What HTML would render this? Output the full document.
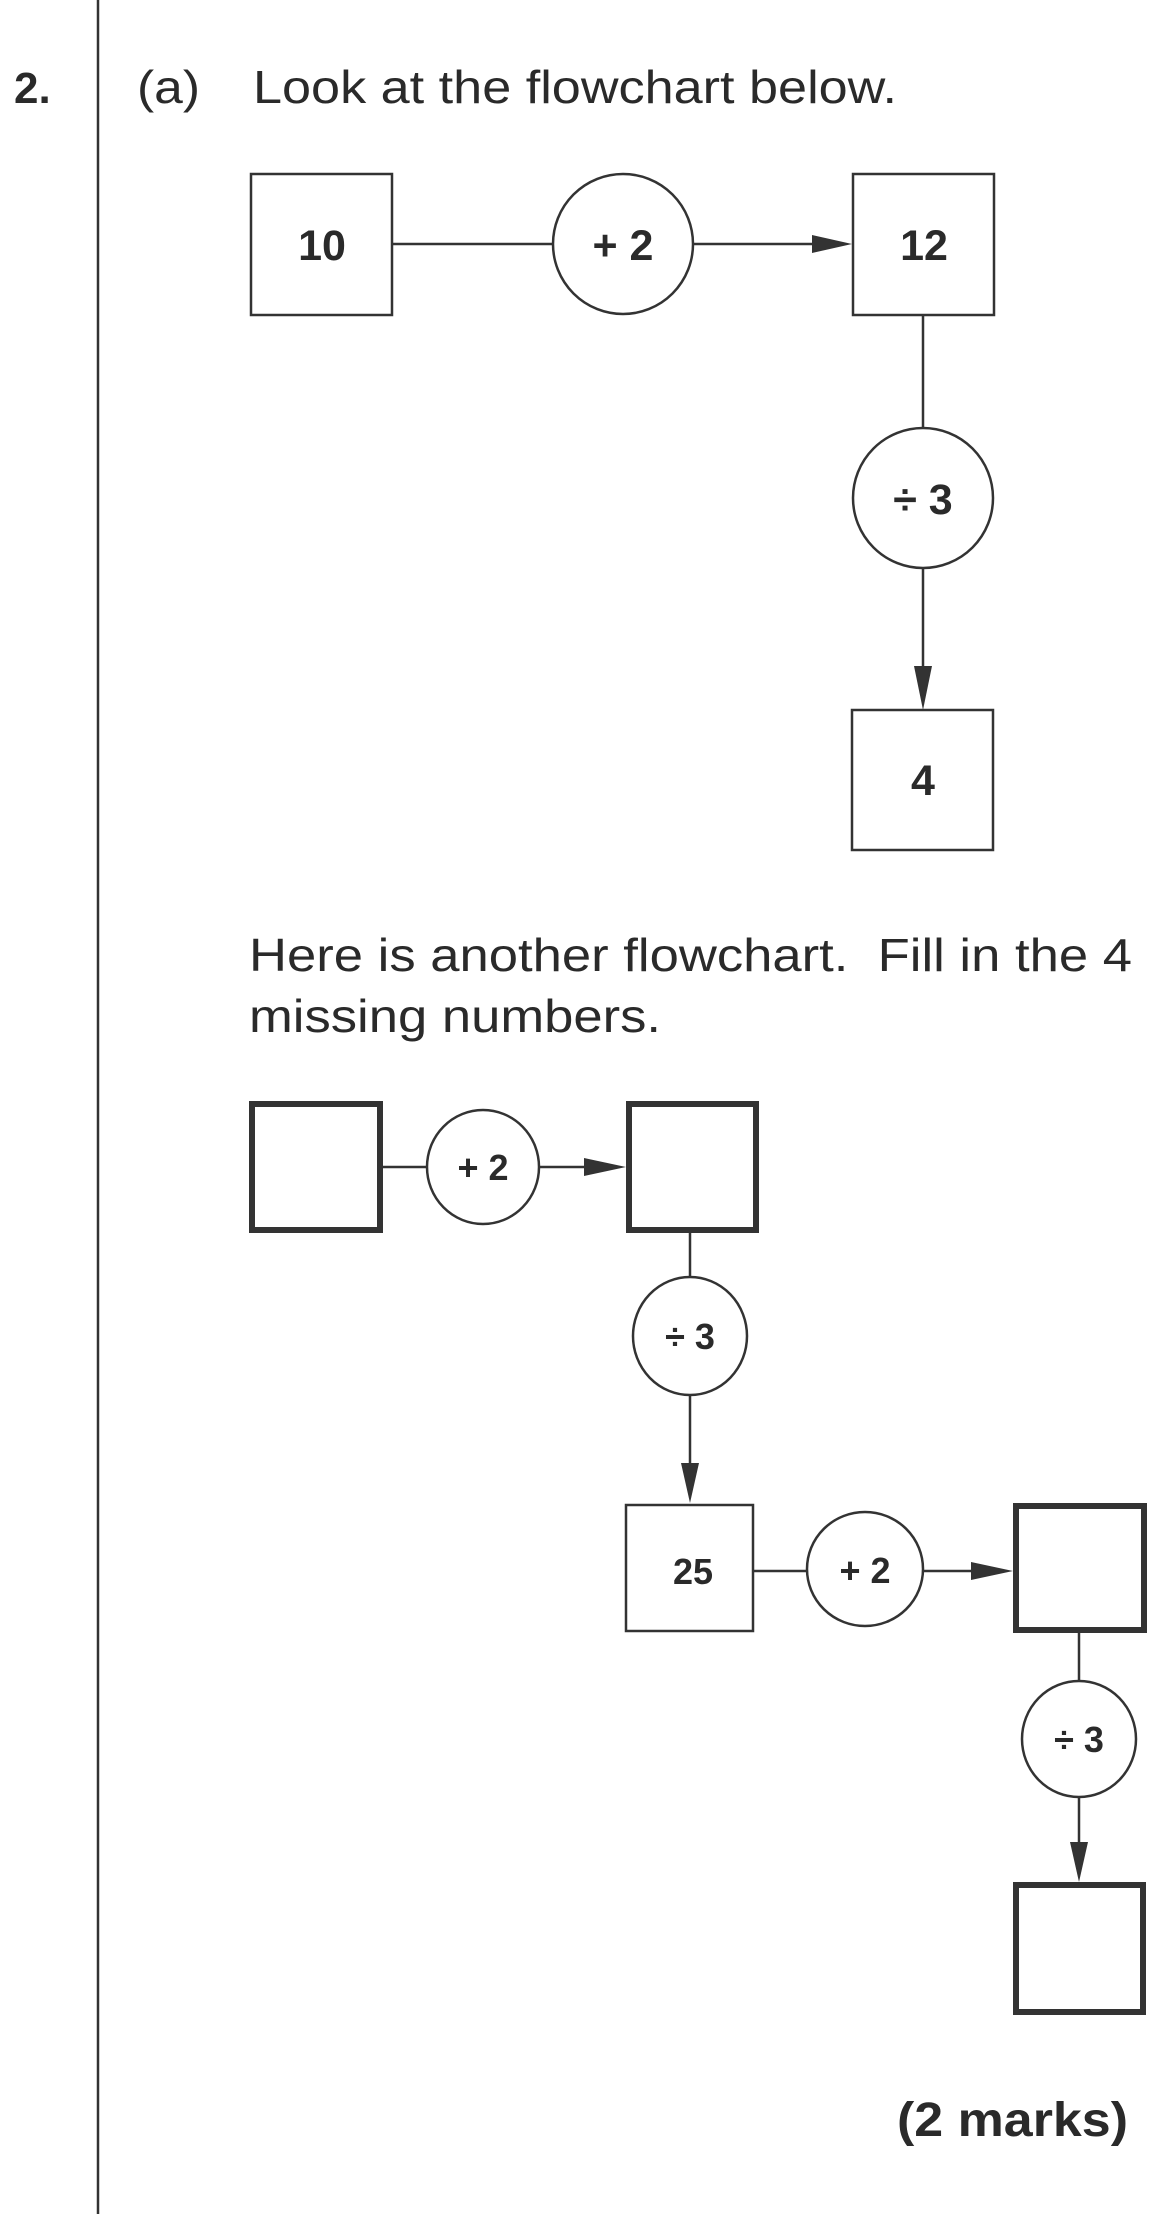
<!DOCTYPE html>
<html><head><meta charset="utf-8"><style>
html,body{margin:0;padding:0;background:#fff}
svg{display:block}
text{font-family:"Liberation Sans",sans-serif;fill:#2a2a2a}
</style></head><body>
<svg width="1172" height="2214" viewBox="0 0 1172 2214" xmlns="http://www.w3.org/2000/svg">
<line x1="98" y1="0" x2="98" y2="2214" stroke="#333" stroke-width="2.5"/>
<text x="14" y="103" font-size="44" font-weight="bold">2.</text>
<text x="137" y="103" font-size="46" textLength="63" lengthAdjust="spacingAndGlyphs">(a)</text>
<text x="253" y="103" font-size="46" textLength="644" lengthAdjust="spacingAndGlyphs">Look at the flowchart below.</text>
<g stroke="#333" stroke-width="2.5" fill="none">
<rect x="251" y="174" width="141" height="141"/>
<ellipse cx="623" cy="244" rx="70" ry="70"/>
<rect x="853" y="174" width="141" height="141"/>
<line x1="392" y1="244" x2="553" y2="244"/>
<line x1="694" y1="244" x2="830" y2="244"/>
<line x1="923" y1="315" x2="923" y2="428"/>
<ellipse cx="923" cy="498" rx="70" ry="70"/>
<line x1="923" y1="568" x2="923" y2="670"/>
<rect x="852" y="710" width="141" height="140"/>
</g>
<polygon points="852,244 812,235 812,253" fill="#333"/>
<polygon points="923,710 914,666 932,666" fill="#333"/>
<g font-size="43" font-weight="bold" text-anchor="middle">
<text x="322" y="260">10</text>
<text x="623" y="260">+ 2</text>
<text x="924" y="260">12</text>
<text x="923" y="514">÷ 3</text>
<text x="923" y="795">4</text>
</g>
<text x="249" y="971" font-size="46" xml:space="preserve" textLength="883" lengthAdjust="spacingAndGlyphs">Here is another flowchart.  Fill in the 4</text>
<text x="249" y="1032" font-size="46" textLength="412" lengthAdjust="spacingAndGlyphs">missing numbers.</text>
<g stroke="#333" fill="none">
<rect x="252" y="1104" width="128" height="126" stroke-width="6"/>
<rect x="629" y="1104" width="127" height="126" stroke-width="6"/>
<ellipse cx="483" cy="1167" rx="56" ry="57" stroke-width="2.5"/>
<line x1="383" y1="1167" x2="427" y2="1167" stroke-width="2.5"/>
<line x1="540" y1="1167" x2="600" y2="1167" stroke-width="2.5"/>
<line x1="690" y1="1233" x2="690" y2="1277" stroke-width="2.5"/>
<ellipse cx="690" cy="1336" rx="57" ry="59" stroke-width="2.5"/>
<line x1="690" y1="1395" x2="690" y2="1470" stroke-width="2.5"/>
<rect x="626" y="1505" width="127" height="126" stroke-width="2.5"/>
<line x1="753" y1="1571" x2="807" y2="1571" stroke-width="2.5"/>
<ellipse cx="865" cy="1569" rx="58" ry="57" stroke-width="2.5"/>
<line x1="923" y1="1571" x2="985" y2="1571" stroke-width="2.5"/>
<rect x="1016" y="1506" width="128" height="124" stroke-width="6"/>
<line x1="1079" y1="1633" x2="1079" y2="1681" stroke-width="2.5"/>
<ellipse cx="1079" cy="1739" rx="57" ry="58" stroke-width="2.5"/>
<line x1="1079" y1="1797" x2="1079" y2="1850" stroke-width="2.5"/>
<rect x="1016" y="1885" width="127" height="127" stroke-width="6"/>
</g>
<polygon points="626,1167 584,1158 584,1176" fill="#333"/>
<polygon points="690,1503 681,1463 699,1463" fill="#333"/>
<polygon points="1013,1571 971,1562 971,1580" fill="#333"/>
<polygon points="1079,1882 1070,1842 1088,1842" fill="#333"/>
<g font-size="36" font-weight="bold" text-anchor="middle">
<text x="483" y="1180">+ 2</text>
<text x="690" y="1349">÷ 3</text>
<text x="693" y="1584">25</text>
<text x="865" y="1583">+ 2</text>
<text x="1079" y="1752">÷ 3</text>
</g>
<text x="897" y="2136" font-size="48" font-weight="bold" textLength="231" lengthAdjust="spacingAndGlyphs">(2 marks)</text>
</svg>
</body></html>
